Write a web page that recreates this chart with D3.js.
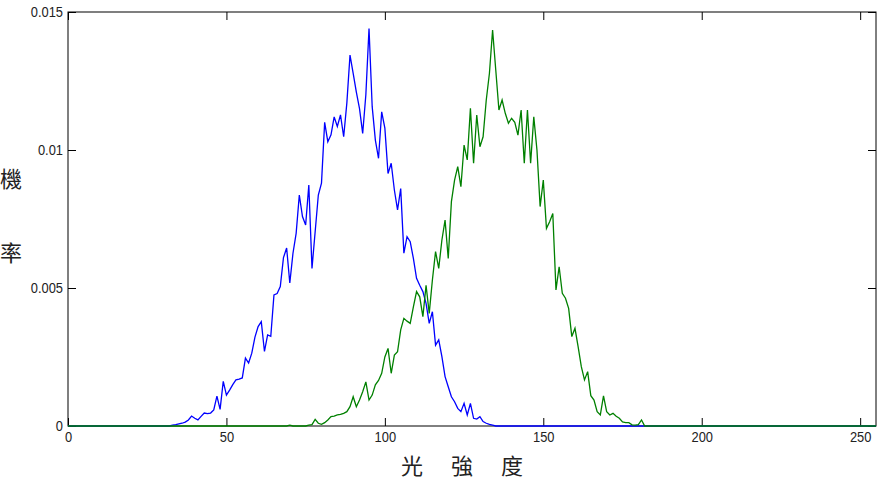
<!DOCTYPE html>
<html>
<head>
<meta charset="utf-8">
<script src="https://cdn.jsdelivr.net/npm/d3@7"></script>
<style>
  body { margin: 0; background: #fff; }
  svg { display: block; }
</style>
</head>
<body>
<div id="chart"></div>
<script>
// Histogram data: probability per intensity bin (0..255)
const binCount = 256;

const xTicks = [0, 50, 100, 150, 200, 250];
const yTicks = [0, 0.005, 0.01, 0.015];
const yTickLabels = ["0", "0.005", "0.01", "0.015"];

const xLabelChars = ["光", "強", "度"];
const yLabelChars = ["機", "率"];

// blue series, non-zero part starts at bin 32
const blueStart = 32;
const blueValues = [
  0, 0.00003, 0.00005, 0.00008, 0.0001, 0.00014, 0.00022, 0.00036, 0.00028, 0.00022,
  0.00035, 0.00047, 0.00045, 0.00047, 0.00058, 0.00108, 0.0006, 0.00162, 0.00112, 0.0013,
  0.0015, 0.00167, 0.0017, 0.00174, 0.00246, 0.00228, 0.00264, 0.00322, 0.0036, 0.00378,
  0.0027, 0.0033, 0.00325, 0.00475, 0.0048, 0.00505, 0.0061, 0.00645, 0.00518, 0.00626,
  0.00698, 0.00837, 0.00759, 0.00728, 0.00873, 0.00571, 0.00704, 0.00837, 0.0088, 0.011,
  0.0103, 0.01055, 0.0112, 0.01085, 0.01127, 0.01048, 0.0117, 0.01344, 0.01278, 0.0121,
  0.0115, 0.0106, 0.012, 0.0144, 0.01157, 0.01036, 0.0097, 0.01138, 0.01079, 0.00915,
  0.00952, 0.00855, 0.00783, 0.0086, 0.00626, 0.00686, 0.00668, 0.00607, 0.00535, 0.0051,
  0.00487, 0.00444, 0.00372, 0.00414, 0.00293, 0.00312, 0.00251, 0.00179, 0.00142, 0.00106,
  0.00088, 0.00064, 0.00052, 0.00082, 0.0004, 0.00082, 0.00028, 0.00025, 0.00034, 0.00016,
  0.0001, 0.00006, 0.00003, 0
];

// green series, non-zero part starts at bin 70
const greenStart = 70;
const greenValues = [
  0.00003, 0, 0, 0, 0, 0, 0.00003, 0.00005, 0.00024, 0.0001,
  0.00006, 0.00012, 0.00022, 0.00034, 0.00036, 0.0004, 0.00042, 0.00046, 0.00052, 0.0007,
  0.00106, 0.0007, 0.00094, 0.00124, 0.0016, 0.00094, 0.00112, 0.00149, 0.00165, 0.00191,
  0.0025, 0.00281, 0.00191, 0.00257, 0.00269, 0.00348, 0.0039, 0.0038, 0.00372, 0.00432,
  0.00487, 0.00468, 0.00396, 0.0051, 0.00408, 0.00529, 0.00632, 0.00571, 0.00674, 0.00746,
  0.00607, 0.00813, 0.00891, 0.0094, 0.00867, 0.01018, 0.00964, 0.01151, 0.00952, 0.01127,
  0.01012, 0.01048, 0.01181, 0.01278, 0.01435, 0.0129, 0.01145, 0.01181, 0.01133, 0.01097,
  0.01115, 0.011, 0.01054, 0.01145, 0.00952, 0.01145, 0.00952, 0.0112, 0.01, 0.00795,
  0.00891, 0.00716, 0.0074, 0.0077, 0.00493, 0.00577, 0.00481, 0.00463, 0.00426, 0.00324,
  0.00354, 0.00287, 0.00215, 0.00167, 0.00197, 0.0011, 0.00094, 0.00052, 0.0004, 0.00109,
  0.00052, 0.0004, 0.00046, 0.00035, 0.00028, 0.00015, 0.00012, 0.00012, 0.00004, 0.00003,
  0.00005, 0.00022, 0
];

// full 256-bin series, zero outside the listed part
function fullSeries(start, values) {
  const out = [];
  for (let i = 0; i < binCount; i++) {
    const j = i - start;
    out.push({ bin: i, value: (j >= 0 && j < values.length) ? values[j] : 0 });
  }
  return out;
}
const blueSeries = fullSeries(blueStart, blueValues);
const greenSeries = fullSeries(greenStart, greenValues);

// Set the dimensions and margins of the graph
const margin = { top: 12, right: 6, bottom: 58, left: 68 };
const width = 882 - margin.left - margin.right;
const height = 484 - margin.top - margin.bottom;

const svg = d3.select("#chart")
  .append("svg")
    .attr("width", 882)
    .attr("height", 484)
  .append("g")
    .attr("transform", "translate(" + margin.left + "," + margin.top + ")");

const x = d3.scaleLinear().domain([0, 255]).range([0, width]);
const y = d3.scaleLinear().domain([0, 0.015]).range([height, 0]);

const tickFont = "'Liberation Sans', Arial, sans-serif";
const squeeze = 0.86;

// X axis (bottom, labelled) and mirror on top
const xAxis = svg.append("g")
  .attr("transform", "translate(0," + height + ")")
  .call(d3.axisBottom(x).tickValues(xTicks).tickSizeInner(-8).tickSizeOuter(0).tickPadding(5));
xAxis.selectAll("text")
  .style("font-family", tickFont)
  .style("font-size", "15px")
  .attr("fill", "#222")
  .attr("transform", "scale(" + squeeze + ",1)");

svg.append("g")
  .call(d3.axisTop(x).tickValues(xTicks).tickSizeInner(-8).tickSizeOuter(0).tickFormat(""));

// Y axis (left, labelled) and mirror on right
const yAxis = svg.append("g")
  .call(d3.axisLeft(y).tickValues(yTicks).tickSizeInner(-8).tickSizeOuter(0)
    .tickFormat(function (d, i) { return yTickLabels[i]; }));
yAxis.selectAll("text")
  .style("font-family", tickFont)
  .style("font-size", "15px")
  .attr("fill", "#222")
  .attr("x", -5 / squeeze)
  .attr("transform", "scale(" + squeeze + ",1)");

svg.append("g")
  .attr("transform", "translate(" + width + ",0)")
  .call(d3.axisRight(y).tickValues(yTicks).tickSizeInner(-8).tickSizeOuter(0).tickFormat(""));

svg.selectAll(".domain").remove();
svg.selectAll(".tick line").attr("stroke", "#000");

// Box
svg.append("rect")
  .attr("x", 0)
  .attr("y", 0)
  .attr("width", width)
  .attr("height", height)
  .attr("fill", "none")
  .attr("stroke", "#000")
  .attr("stroke-width", 1);

// Lines
const line = d3.line()
  .x(function (d) { return x(d.bin); })
  .y(function (d) { return y(d.value); });

svg.append("path")
  .datum(blueSeries)
  .attr("fill", "none")
  .attr("stroke", "#0000ff")
  .attr("stroke-width", 1.3)
  .attr("d", line);

svg.append("path")
  .datum(greenSeries)
  .attr("fill", "none")
  .attr("stroke", "#008000")
  .attr("stroke-width", 1.3)
  .attr("d", line);

// Axis labels, one upright character at a time
const cjkFont = "'Noto Sans CJK TC', 'Noto Sans CJK SC', sans-serif";

svg.selectAll(".xlabel")
  .data(xLabelChars)
  .enter().append("text")
    .attr("class", "xlabel")
    .attr("x", function (d, i) { return width / 2 - 10 + (i - 1) * 50; })
    .attr("y", height + 48)
    .attr("text-anchor", "middle")
    .style("font-family", cjkFont)
    .style("font-size", "22px")
    .attr("fill", "#222")
    .text(function (d) { return d; });

svg.selectAll(".ylabel")
  .data(yLabelChars)
  .enter().append("text")
    .attr("class", "ylabel")
    .attr("x", -57)
    .attr("y", function (d, i) { return height / 2 - 32 + i * 74; })
    .attr("text-anchor", "middle")
    .style("font-family", cjkFont)
    .style("font-size", "22px")
    .attr("fill", "#222")
    .text(function (d) { return d; });
</script>
</body>
</html>
